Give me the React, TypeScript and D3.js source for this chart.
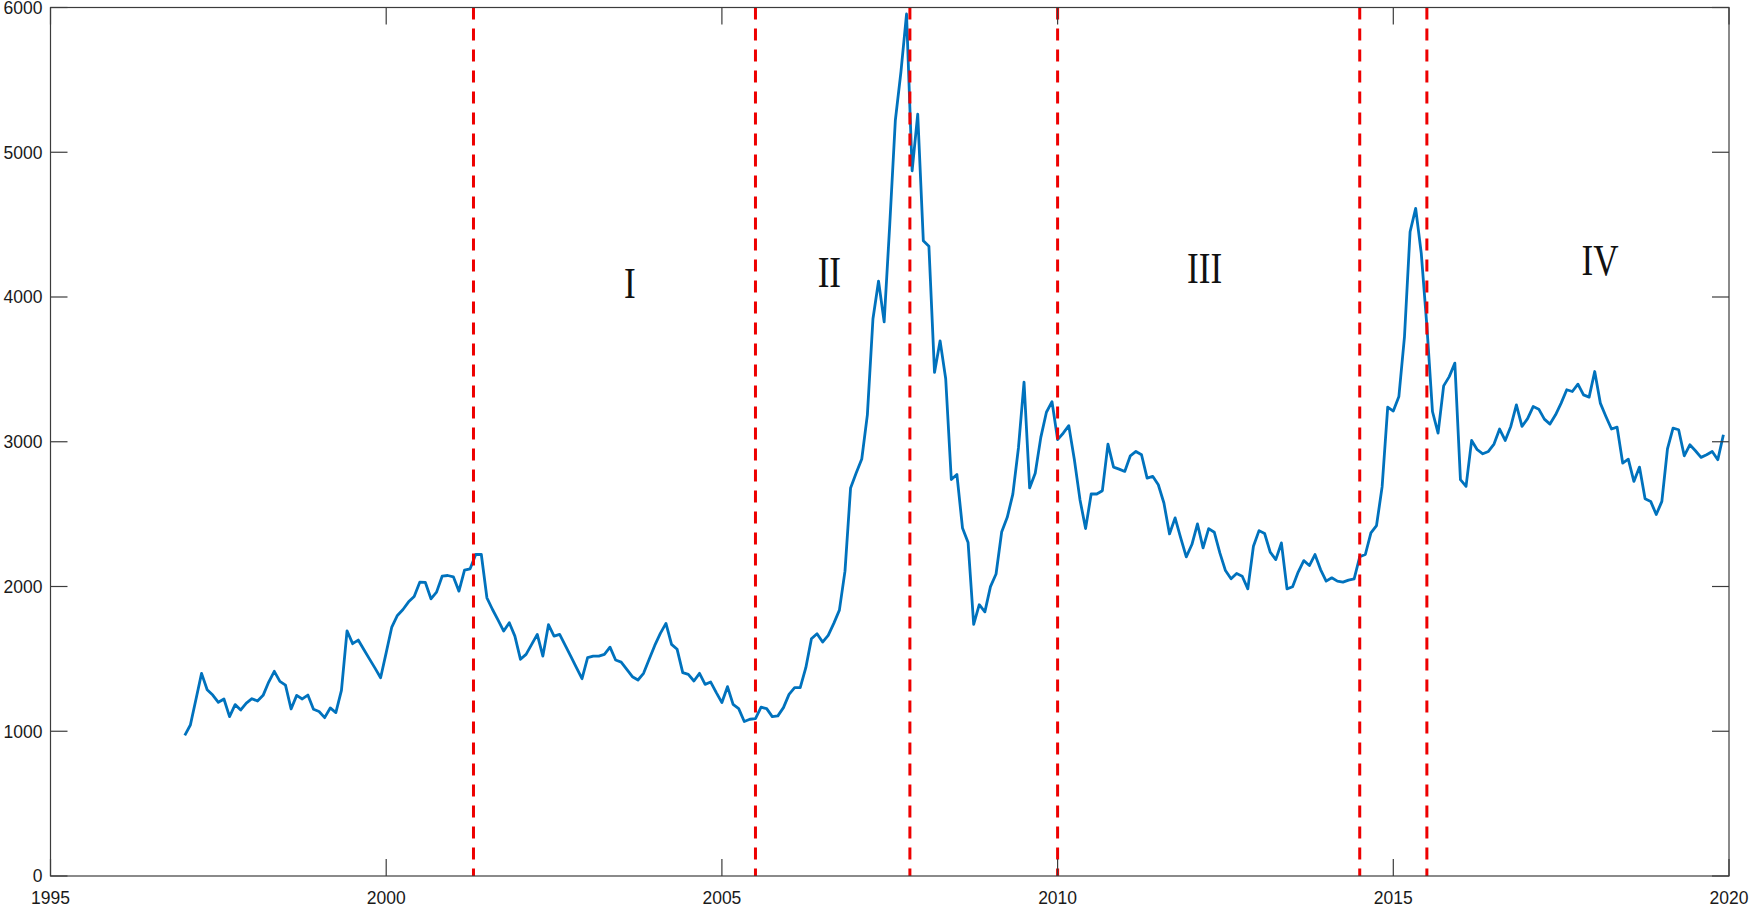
import React from 'react';
import * as d3 from 'd3';

// monthly series, first point January 1997
const startYear = 1997;

const prices1997to2000 = [
  972, 1043, 1221, 1400, 1287, 1250, 1200, 1223, 1101, 1184, 1147, 1195,
  1225, 1209, 1248, 1340, 1414, 1345, 1319, 1154, 1248, 1223, 1250, 1152,
  1136, 1094, 1161, 1129, 1283, 1694, 1605, 1630, 1565, 1500, 1436, 1370,
  1543, 1720, 1800, 1841, 1894, 1931, 2030, 2028, 1915, 1961, 2071, 2076,
];
const prices2001to2004 = [
  2067, 1968, 2113, 2122, 2221, 2221, 1922, 1841, 1768, 1692, 1750, 1657,
  1497, 1531, 1600, 1669, 1519, 1736, 1657, 1669, 1593, 1517, 1439, 1363,
  1508, 1519, 1519, 1531, 1581, 1492, 1478, 1428, 1377, 1354, 1400, 1497,
  1593, 1676, 1745, 1600, 1566, 1405, 1393, 1347, 1400, 1324, 1340, 1267,
];
const prices2005to2008 = [
  1198, 1308, 1186, 1156, 1067, 1083, 1087, 1166, 1156, 1101, 1106, 1163,
  1255, 1301, 1301, 1439, 1639, 1674, 1616, 1662, 1745, 1837, 2106, 2681,
  2784, 2881, 3186, 3850, 4110, 3828, 4500, 5221, 5555, 5955, 4872, 5264,
  4388, 4350, 3479, 3697, 3435, 2739, 2774, 2405, 2304, 1738, 1874, 1825,
];
const prices2009to2012 = [
  1999, 2086, 2376, 2478, 2638, 2957, 3412, 2681, 2783, 3030, 3204, 3277,
  3015, 3059, 3111, 2876, 2600, 2400, 2639, 2639, 2662, 2984, 2825, 2811,
  2795, 2903, 2933, 2910, 2749, 2761, 2703, 2577, 2363, 2474, 2336, 2205,
  2290, 2432, 2267, 2400, 2375, 2232, 2110, 2053, 2090, 2071, 1984, 2278,
];
const prices2013to2016 = [
  2386, 2366, 2237, 2186, 2301, 1984, 1998, 2100, 2179, 2145, 2221, 2117,
  2037, 2060, 2037, 2030, 2044, 2053, 2205, 2221, 2370, 2421, 2688, 3239,
  3212, 3313, 3727, 4451, 4612, 4301, 3800, 3209, 3060, 3386, 3450, 3543,
  2738, 2692, 3009, 2945, 2917, 2933, 2984, 3088, 3009, 3106, 3255, 3106,
];
const prices2017to2019 = [
  3160, 3243, 3225, 3156, 3122, 3186, 3267, 3359, 3347, 3398, 3324, 3308,
  3485, 3267, 3175, 3088, 3101, 2853, 2880, 2726, 2825, 2607, 2588, 2497,
  2588, 2950, 3094, 3083, 2903, 2979, 2938, 2892, 2910, 2933, 2876, 3048,
];

const breakYears = [2001.3, 2005.5, 2007.8, 2010.0, 2014.5, 2015.5];

const stageNames = ['I', 'II', 'III', 'IV'];
const stageYears = [2003.63, 2006.6, 2012.19, 2018.08];
const stageValues = [3990, 4070, 4100, 4155];

const xTicks = [1995, 2000, 2005, 2010, 2015, 2020];
const yTicks = [0, 1000, 2000, 3000, 4000, 5000, 6000];

const prices = [
  ...prices1997to2000,
  ...prices2001to2004,
  ...prices2005to2008,
  ...prices2009to2012,
  ...prices2013to2016,
  ...prices2017to2019,
];

const W = 1750;
const H = 908;
const left = 50.5;
const right = 1729;
const top = 7.5;
const bottom = 876;
const tickLen = 17;

export default function App() {
  const x = d3.scaleLinear().domain([1995, 2020]).range([left, right]);
  const y = d3.scaleLinear().domain([0, 6000]).range([bottom, top]);

  const line = d3
    .line<number>()
    .x((d, i) => x(startYear + i / 12))
    .y((d) => y(d));

  const axisColor = '#3c3c3c';
  const tickFont = "'Liberation Sans', Arial, sans-serif";

  return (
    <svg
      width={W}
      height={H}
      style={{ position: 'absolute', left: 0, top: 0, background: '#fff' }}
    >
      <rect x={0} y={0} width={W} height={H} fill="#fff" />

      {/* price line */}
      <path
        d={line(prices) || ''}
        fill="none"
        stroke="#0072BD"
        strokeWidth={2.8}
        strokeLinejoin="round"
      />

      {/* regime breaks */}
      {breakYears.map((b) => (
        <line
          key={b}
          x1={x(b)}
          x2={x(b)}
          y1={top}
          y2={bottom}
          stroke="#ee0000"
          strokeWidth={3}
          strokeDasharray="12 9"
        />
      ))}

      {/* stage labels */}
      {stageNames.map((s, i) => (
        <text
          key={s}
          transform={`translate(${x(stageYears[i])},${y(stageValues[i])}) scale(0.78,1)`}
          textAnchor="middle"
          fontFamily="'Liberation Serif', 'Times New Roman', serif"
          fontSize={45}
          fill="#111"
        >
          {s}
        </text>
      ))}

      {/* box */}
      <rect
        x={left}
        y={top}
        width={right - left}
        height={bottom - top}
        fill="none"
        stroke={axisColor}
        strokeWidth={1.2}
      />

      {/* x ticks */}
      {xTicks.map((t) => (
        <g key={t}>
          <line x1={x(t)} x2={x(t)} y1={bottom} y2={bottom - tickLen} stroke={axisColor} strokeWidth={1.2} />
          <line x1={x(t)} x2={x(t)} y1={top} y2={top + tickLen} stroke={axisColor} strokeWidth={1.2} />
          <text
            x={x(t)}
            y={903.5}
            textAnchor="middle"
            fontFamily={tickFont}
            fontSize={17.5}
            fill="#1a1a1a"
          >
            {t}
          </text>
        </g>
      ))}

      {/* y ticks */}
      {yTicks.map((t) => (
        <g key={t}>
          <line x1={left} x2={left + tickLen} y1={y(t)} y2={y(t)} stroke={axisColor} strokeWidth={1.2} />
          <line x1={right} x2={right - tickLen} y1={y(t)} y2={y(t)} stroke={axisColor} strokeWidth={1.2} />
          <text
            x={left - 8}
            y={y(t)}
            dy="0.36em"
            textAnchor="end"
            fontFamily={tickFont}
            fontSize={17.5}
            fill="#1a1a1a"
          >
            {t}
          </text>
        </g>
      ))}
    </svg>
  );
}
